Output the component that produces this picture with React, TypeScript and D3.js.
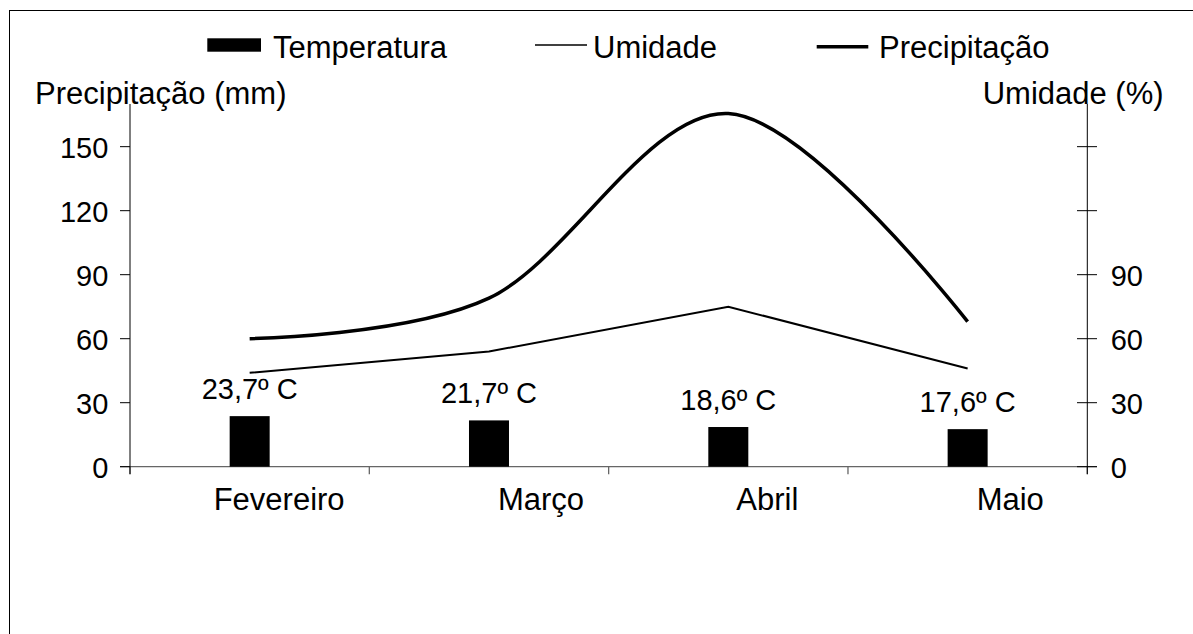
import React from "react";
import * as d3 from "d3";

const months = ["Fevereiro", "Março", "Abril", "Maio"];
const temperature = [23.7, 21.7, 18.6, 17.6];
const temperatureLabels = ["23,7º C", "21,7º C", "18,6º C", "17,6º C"];
const humidity = [44, 54, 75, 46];
const precipitation = [60, 79, 165.5, 68];
const leftTicks = [0, 30, 60, 90, 120, 150];
const rightTickLabels = [0, 30, 60, 90];

const W = 1193;
const H = 634;
const FONT = "'Liberation Sans', Arial, Helvetica, sans-serif";
// per-category horizontal label offset (style only)
const labelDx = [-36, 9, 8, 9];

export default function App() {
  const x = d3.scaleBand<string>().domain(months).range([130, 1087.3]).padding(0);
  const y = d3.scaleLinear().domain([0, 170]).range([466.7, 104]);
  const cx = (m: string) => (x(m) as number) + x.bandwidth() / 2;
  const barW = 40;

  const precipLine = d3
    .line<number>()
    .x((_, i) => cx(months[i]))
    .y((v) => y(v))
    .curve(d3.curveCardinal.tension(0));
  const humLine = d3
    .line<number>()
    .x((_, i) => cx(months[i]))
    .y((v) => y(v));

  const y0 = y(0);
  const xLeft = 130;
  const xRight = 1087.3;

  return (
    <svg
      width={W}
      height={H}
      style={{ position: "absolute", left: 0, top: 0, background: "#fff" }}
      fontFamily={FONT}
    >
      <rect x={0} y={0} width={W} height={H} fill="#fff" />
      <rect x={9.5} y={10.5} width={1200} height={700} fill="none" stroke="#000" strokeWidth={1} />

      {/* legend */}
      <rect x={207.3} y={38.3} width={53.7} height={13.4} fill="#000" />
      <text x={273} y={58.3} fontSize={31}>Temperatura</text>
      <line x1={535} x2={587} y1={45} y2={45} stroke="#000" strokeWidth={1.5} />
      <text x={593} y={58.3} fontSize={31}>Umidade</text>
      <line x1={816.7} x2={868.3} y1={46.7} y2={46.7} stroke="#000" strokeWidth={3.5} />
      <text x={879} y={58.3} fontSize={31}>Precipitação</text>

      {/* axis titles */}
      <text x={35} y={104} fontSize={31}>Precipitação (mm)</text>
      <text x={982.7} y={104} fontSize={31}>Umidade (%)</text>

      {/* x axis line */}
      <line x1={120} x2={1097} y1={y0} y2={y0} stroke="#666" strokeWidth={1.3} />
      {[...months.map((m) => x(m) as number), xRight].map((t, i) => (
        <line key={"xt" + i} x1={t} x2={t} y1={y0} y2={y0 + 7.5} stroke="#666" strokeWidth={1.3} />
      ))}

      {/* left axis */}
      <line x1={xLeft} x2={xLeft} y1={y(170)} y2={y0 + 7.5} stroke="#000" strokeWidth={1} />
      {leftTicks.map((t) => (
        <g key={"lt" + t}>
          <line x1={120} x2={xLeft} y1={y(t)} y2={y(t)} stroke="#000" strokeWidth={1} />
          <text x={108.3} y={y(t) + 11.5} fontSize={29} textAnchor="end">{t}</text>
        </g>
      ))}

      {/* right axis */}
      <line x1={xRight} x2={xRight} y1={y(170)} y2={y0 + 7.5} stroke="#000" strokeWidth={1} />
      {leftTicks.map((t) => (
        <line key={"rt" + t} x1={1077} x2={1097} y1={y(t)} y2={y(t)} stroke="#000" strokeWidth={1} />
      ))}
      {rightTickLabels.map((t) => (
        <text key={"rl" + t} x={1110.7} y={y(t) + 11.5} fontSize={29}>{t}</text>
      ))}

      {/* category labels */}
      {months.map((m, i) => (
        <text key={"cl" + m} x={cx(m) + labelDx[i]} y={510} fontSize={31}>{m}</text>
      ))}

      {/* bars */}
      {temperature.map((v, i) => (
        <g key={"b" + i}>
          <rect x={cx(months[i]) - barW / 2} y={y(v)} width={barW} height={y0 - y(v)} fill="#000" />
          <text x={cx(months[i])} y={y(v) - 17} fontSize={29} textAnchor="middle">{temperatureLabels[i]}</text>
        </g>
      ))}

      {/* lines */}
      <path d={humLine(humidity) as string} fill="none" stroke="#000" strokeWidth={2} />
      <path d={precipLine(precipitation) as string} fill="none" stroke="#000" strokeWidth={3.5} />
    </svg>
  );
}
